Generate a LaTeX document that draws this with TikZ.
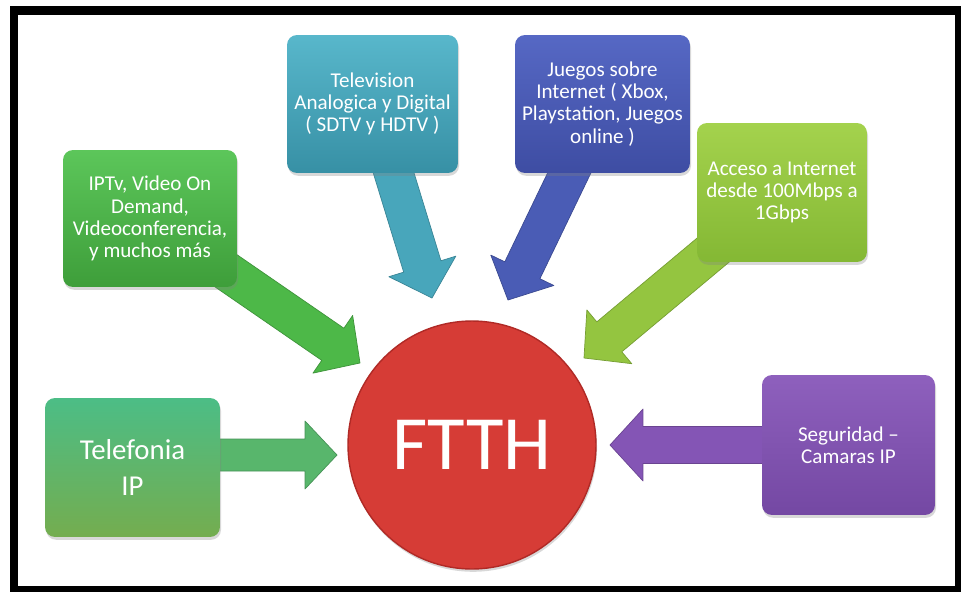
\documentclass[tikz,border=0pt]{standalone}
\usepackage{fontspec}
\setmainfont{Carlito}
\usetikzlibrary{calc,shadows}
\pgfdeclarelayer{back}
\pgfdeclarelayer{mid}
\pgfsetlayers{back,mid,main}
\definecolor{gAt}{HTML}{5CC65A}\definecolor{gAb}{HTML}{3E9E3A}\definecolor{gA}{HTML}{4DB848}
\definecolor{tAt}{HTML}{58B7CB}\definecolor{tAb}{HTML}{3790A5}\definecolor{tA}{HTML}{48A6BB}
\definecolor{bAt}{HTML}{5668C4}\definecolor{bAb}{HTML}{3E4DA3}\definecolor{bA}{HTML}{4A5CB5}
\definecolor{lAt}{HTML}{A4D24D}\definecolor{lAb}{HTML}{84B834}\definecolor{lA}{HTML}{94C540}
\definecolor{sAt}{HTML}{4CBD86}\definecolor{sAb}{HTML}{74AD4F}\definecolor{sA}{HTML}{58B66C}
\definecolor{pAt}{HTML}{8E60BD}\definecolor{pAb}{HTML}{7448A3}\definecolor{pA}{HTML}{8455B5}
\definecolor{ftthred}{HTML}{D63C36}\definecolor{ftthedge}{HTML}{B02A26}
\tikzset{
  box/.style={rounded corners=0.2cm, inner sep=0pt, align=center, text=white,
    font=\fontsize{12}{12.6}\selectfont,
    drop shadow={shadow xshift=0.6pt, shadow yshift=-1.6pt, opacity=0.3}},
  hub/.style={circle, inner sep=0pt, minimum size=4.96cm, fill=ftthred, draw=ftthedge,
    line width=0.8pt, text=white, font=\fontsize{43.7}{44}\selectfont,
    drop shadow={shadow xshift=0.6pt, shadow yshift=-1.6pt, opacity=0.3}},
  blk/.style={line width=0.4pt, line join=round}
}
\newcommand\blockarr[6]{%
  \coordinate (hb) at ($(#2)!#6!(#1)$);
  \filldraw[blk, fill=#3, draw=#3!80!black]
    ($(#1)!#4!90:(#2)$) -- ($(hb)!#4!90:(#2)$) -- ($(hb)!#5!90:(#2)$) -- (#2)
    -- ($(hb)!#5!-90:(#2)$) -- ($(hb)!#4!-90:(#2)$) -- ($(#1)!#4!-90:(#2)$) -- cycle;}
\begin{document}
\begin{tikzpicture}[x=0.02cm, y=-0.02cm]
\useasboundingbox (0,0) rectangle (961,592);
\begin{pgfonlayer}{back}
  \fill[white] (0,0) rectangle (961,592);
  \fill[black] (10,6) rectangle (961,592);
  \fill[white] (18,15) rectangle (955,586);
\end{pgfonlayer}

\node[box, minimum width=3.48cm, minimum height=2.74cm, top color=gAt, bottom color=gAb]
  (iptv) at (150,218.5) {IPTv, Video On\\Demand,\\Videoconferencia,\\y muchos más};
\node[box, minimum width=3.42cm, minimum height=2.76cm, top color=tAt, bottom color=tAb]
  (tv) at (372.5,104) {Television\\Analogica y Digital\\( SDTV y HDTV )};
\node[box, minimum width=3.5cm, minimum height=2.76cm, top color=bAt, bottom color=bAb]
  (juegos) at (602.5,104) {Juegos sobre\\Internet ( Xbox,\\Playstation, Juegos\\online )};
\node[box, minimum width=3.4cm, minimum height=2.78cm, top color=lAt, bottom color=lAb]
  (acceso) at (782,192.5) {Acceso a Internet\\desde 100Mbps a\\1Gbps};
\node[box, minimum width=3.5cm, minimum height=2.78cm, top color=sAt, bottom color=sAb,
  font=\fontsize{16.4}{20.5}\selectfont]
  (telef) at (132.5,467.5) {Telefonia\\IP};
\node[box, minimum width=3.46cm, minimum height=2.8cm, top color=pAt, bottom color=pAb]
  (segur) at (848.5,445) {Seguridad –\\Camaras IP};
\node[hub] (ftth) at (472,445) {FTTH};

\coordinate (tip1) at (360,363);
\coordinate (tip2) at (432,298);
\coordinate (tip3) at (508,300);
\coordinate (tip4) at (584,358);
\coordinate (tip5) at (337,455);
\coordinate (tip6) at (610,445);
\coordinate (st5) at (132.5,455);

\begin{pgfonlayer}{mid}
  \blockarr{iptv.center}{tip1}{gA}{0.39cm}{0.70cm}{0.66cm}
  \blockarr{tv.center}{tip2}{tA}{0.39cm}{0.70cm}{0.66cm}
  \blockarr{juegos.center}{tip3}{bA}{0.39cm}{0.70cm}{0.66cm}
  \blockarr{acceso.center}{tip4}{lA}{0.39cm}{0.70cm}{0.66cm}
  \blockarr{st5}{tip5}{sA}{0.32cm}{0.68cm}{0.64cm}
  \blockarr{segur.center}{tip6}{pA}{0.37cm}{0.72cm}{0.66cm}
\end{pgfonlayer}
\end{tikzpicture}
\end{document}
